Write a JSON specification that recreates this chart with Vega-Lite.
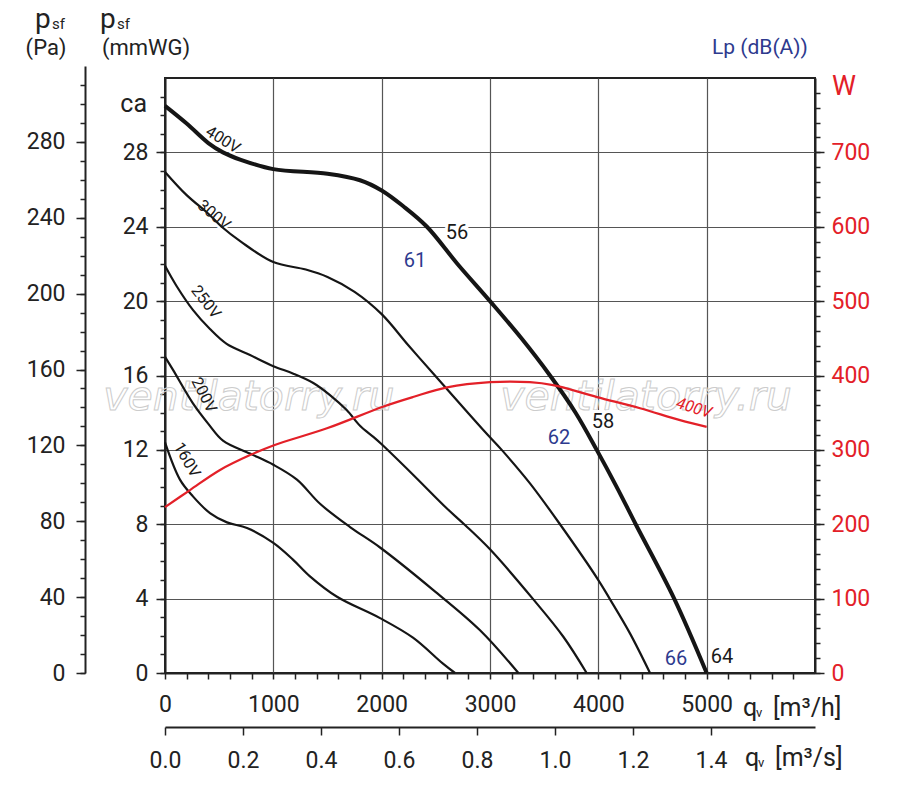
{
  "$schema": "https://vega.github.io/schema/vega-lite/v6.json",
  "width": 650,
  "height": 595,
  "autosize": "none",
  "padding": {"left": 165, "top": 78, "right": 85, "bottom": 113},
  "background": "white",
  "config": {
    "view": {"stroke": "#222", "strokeWidth": 2},
    "font": "Roboto",
    "axis": {
      "domainColor": "#222", "domainWidth": 2, "tickColor": "#222", "tickWidth": 1.5,
      "labelFont": "Roboto", "labelFontSize": 23, "labelColor": "#222",
      "gridColor": "#555", "gridWidth": 1.2, "grid": false,
      "labelOverlap": false, "labelFlush": false
    }
  },
  "datasets": {
    "curves": [
      {"v": "160V", "q": 0, "p": 12.4}, {"v": "160V", "q": 138, "p": 10.4}, {"v": "160V", "q": 258, "p": 9.5},
      {"v": "160V", "q": 415, "p": 8.6}, {"v": "160V", "q": 572, "p": 8.1}, {"v": "160V", "q": 757, "p": 7.8},
      {"v": "160V", "q": 1000, "p": 7.0}, {"v": "160V", "q": 1181, "p": 6.1}, {"v": "160V", "q": 1338, "p": 5.2},
      {"v": "160V", "q": 1588, "p": 4.1}, {"v": "160V", "q": 1985, "p": 2.95}, {"v": "160V", "q": 2289, "p": 1.9},
      {"v": "160V", "q": 2566, "p": 0.5}, {"v": "160V", "q": 2677, "p": 0},
      {"v": "200V", "q": 0, "p": 17.0}, {"v": "200V", "q": 74, "p": 16.3}, {"v": "200V", "q": 258, "p": 14.5},
      {"v": "200V", "q": 400, "p": 13.4}, {"v": "200V", "q": 535, "p": 12.5}, {"v": "200V", "q": 785, "p": 11.8},
      {"v": "200V", "q": 1000, "p": 11.2}, {"v": "200V", "q": 1218, "p": 10.4}, {"v": "200V", "q": 1431, "p": 9.1},
      {"v": "200V", "q": 1708, "p": 7.85}, {"v": "200V", "q": 1985, "p": 6.75}, {"v": "200V", "q": 2477, "p": 4.46},
      {"v": "200V", "q": 2908, "p": 2.3}, {"v": "200V", "q": 3262, "p": 0},
      {"v": "250V", "q": 0, "p": 21.9}, {"v": "250V", "q": 108, "p": 20.8}, {"v": "250V", "q": 261, "p": 19.5},
      {"v": "250V", "q": 415, "p": 18.5}, {"v": "250V", "q": 569, "p": 17.7}, {"v": "250V", "q": 785, "p": 17.1},
      {"v": "250V", "q": 1000, "p": 16.5}, {"v": "250V", "q": 1185, "p": 16.1}, {"v": "250V", "q": 1369, "p": 15.6},
      {"v": "250V", "q": 1523, "p": 14.95}, {"v": "250V", "q": 1677, "p": 14.14}, {"v": "250V", "q": 1800, "p": 13.3},
      {"v": "250V", "q": 1923, "p": 12.7}, {"v": "250V", "q": 2000, "p": 12.3}, {"v": "250V", "q": 2292, "p": 10.65},
      {"v": "250V", "q": 2600, "p": 8.86}, {"v": "250V", "q": 2769, "p": 7.96}, {"v": "250V", "q": 3000, "p": 6.65},
      {"v": "250V", "q": 3400, "p": 3.96}, {"v": "250V", "q": 3677, "p": 1.95}, {"v": "250V", "q": 3892, "p": 0},
      {"v": "300V", "q": 0, "p": 26.95}, {"v": "300V", "q": 200, "p": 25.7}, {"v": "300V", "q": 400, "p": 24.7},
      {"v": "300V", "q": 523, "p": 24.0}, {"v": "300V", "q": 700, "p": 23.2}, {"v": "300V", "q": 1000, "p": 22.1},
      {"v": "300V", "q": 1300, "p": 21.7}, {"v": "300V", "q": 1500, "p": 21.3}, {"v": "300V", "q": 1750, "p": 20.5},
      {"v": "300V", "q": 2000, "p": 19.3}, {"v": "300V", "q": 2250, "p": 17.6}, {"v": "300V", "q": 2492, "p": 16.0},
      {"v": "300V", "q": 2938, "p": 13.07}, {"v": "300V", "q": 3108, "p": 12.0}, {"v": "300V", "q": 3369, "p": 10.2},
      {"v": "300V", "q": 3646, "p": 8.0}, {"v": "300V", "q": 4000, "p": 5.0}, {"v": "300V", "q": 4108, "p": 3.96},
      {"v": "300V", "q": 4292, "p": 2.13}, {"v": "300V", "q": 4477, "p": 0},
      {"v": "400V", "q": 0, "p": 30.5}, {"v": "400V", "q": 200, "p": 29.55}, {"v": "400V", "q": 400, "p": 28.5},
      {"v": "400V", "q": 535, "p": 28.0}, {"v": "400V", "q": 700, "p": 27.6}, {"v": "400V", "q": 1000, "p": 27.1},
      {"v": "400V", "q": 1500, "p": 26.85}, {"v": "400V", "q": 1800, "p": 26.5}, {"v": "400V", "q": 2000, "p": 25.95},
      {"v": "400V", "q": 2200, "p": 25.1}, {"v": "400V", "q": 2418, "p": 24.0}, {"v": "400V", "q": 2700, "p": 22.0},
      {"v": "400V", "q": 3000, "p": 20.0}, {"v": "400V", "q": 3290, "p": 18.0}, {"v": "400V", "q": 3554, "p": 16.0},
      {"v": "400V", "q": 3790, "p": 14.0}, {"v": "400V", "q": 3985, "p": 12.0}, {"v": "400V", "q": 4170, "p": 10.0},
      {"v": "400V", "q": 4345, "p": 8.0}, {"v": "400V", "q": 4700, "p": 4.0}, {"v": "400V", "q": 5000, "p": 0}
    ],
    "power": [
      {"q": 0, "w": 223}, {"q": 231, "w": 246}, {"q": 508, "w": 273}, {"q": 785, "w": 293},
      {"q": 1000, "w": 306}, {"q": 1495, "w": 329}, {"q": 2012, "w": 358}, {"q": 2289, "w": 371},
      {"q": 2603, "w": 384}, {"q": 3000, "w": 391}, {"q": 3369, "w": 391}, {"q": 3582, "w": 387},
      {"q": 3988, "w": 371}, {"q": 4385, "w": 356}, {"q": 4754, "w": 340}, {"q": 5000, "w": 331}
    ],
    "dummy": [{"z": 0}]
  },
  "resolve": {"scale": {"x": "independent", "y": "independent"}},
  "layer": [
    {
      "encoding": {
        "x": {
          "field": "q", "type": "quantitative",
          "scale": {"domain": [0, 6000], "nice": false, "zero": false},
          "axis": {
            "orient": "bottom", "title": null, "format": "d", "grid": true,
            "values": [0,200,400,600,800,1000,1200,1400,1600,1800,2000,2200,2400,2600,2800,3000,3200,3400,3600,3800,4000,4200,4400,4600,4800,5000,5200,5400,5600,5800],
            "labelExpr": "datum.value % 1000 === 0 && datum.value <= 5000 ? datum.label : ''",
            "gridOpacity": {"condition": {"test": "datum.value % 1000 === 0", "value": 1}, "value": 0},
            "tickSize": 6, "labelPadding": 14
          }
        },
        "y": {
          "field": "p", "type": "quantitative",
          "scale": {"domain": [0, 32], "nice": false, "zero": false},
          "axis": {
            "orient": "left", "title": null, "grid": true,
            "values": [0, 4, 8, 12, 16, 20, 24, 28],
            "tickSize": 9, "labelPadding": 8
          }
        }
      },
      "layer": [
        {
          "data": {"values": [{"q": 775, "p": 14.14, "t": "ventilatorry.ru"}, {"q": 4440, "p": 14.14, "t": "ventilatorry.ru"}]},
          "mark": {"type": "text", "font": "DejaVu Sans", "fontSize": 41, "fontStyle": "italic", "baseline": "alphabetic", "fillOpacity": 0, "stroke": "#cccccc", "strokeWidth": 1},
          "encoding": {"text": {"field": "t"}}
        },
        {
          "data": {"values": [{"q": 535, "p": 28.67, "t": "400V"}]},
          "mark": {"type": "text", "fontSize": 16, "angle": 32, "stroke": "white", "strokeWidth": 5, "fill": "white"},
          "encoding": {"text": {"field": "t"}}
        },
        {
          "data": {"values": [{"q": 452, "p": 24.63, "t": "300V"}]},
          "mark": {"type": "text", "fontSize": 16, "angle": 40, "stroke": "white", "strokeWidth": 5, "fill": "white"},
          "encoding": {"text": {"field": "t"}}
        },
        {
          "data": {"values": [{"q": 2695, "p": 23.66, "t": "56"}, {"q": 4043, "p": 13.5, "t": "58"}, {"q": 5142, "p": 0.86, "t": "64"}, {"q": 2308, "p": 22.16, "t": "61"}, {"q": 3637, "p": 12.64, "t": "62"}, {"q": 4717, "p": 0.75, "t": "66"}]},
          "mark": {"type": "text", "fontSize": 20, "stroke": "white", "strokeWidth": 6, "fill": "white"},
          "encoding": {"text": {"field": "t"}}
        },
        {
          "data": {"name": "curves"},
          "transform": [{"filter": "datum.v !== '400V'"}],
          "mark": {"type": "line", "interpolate": "catmull-rom", "color": "#151515", "strokeWidth": 2.2},
          "encoding": {"detail": {"field": "v"}}
        },
        {
          "data": {"name": "curves"},
          "transform": [{"filter": "datum.v === '400V'"}],
          "mark": {"type": "line", "interpolate": "catmull-rom", "color": "#151515", "strokeWidth": 4}
        },
        {
          "data": {"values": [{"q": 535, "p": 28.67, "t": "400V"}]},
          "mark": {"type": "text", "fontSize": 16, "angle": 32, "color": "#1a1a1a"},
          "encoding": {"text": {"field": "t"}}
        },
        {
          "data": {"values": [{"q": 452, "p": 24.63, "t": "300V"}]},
          "mark": {"type": "text", "fontSize": 16, "angle": 40, "color": "#1a1a1a"},
          "encoding": {"text": {"field": "t"}}
        },
        {
          "data": {"values": [{"q": 378, "p": 19.95, "t": "250V"}]},
          "mark": {"type": "text", "fontSize": 16, "angle": 52, "color": "#1a1a1a"},
          "encoding": {"text": {"field": "t"}}
        },
        {
          "data": {"values": [{"q": 360, "p": 14.95, "t": "200V"}]},
          "mark": {"type": "text", "fontSize": 16, "angle": 63, "color": "#1a1a1a"},
          "encoding": {"text": {"field": "t"}}
        },
        {
          "data": {"values": [{"q": 203, "p": 11.46, "t": "160V"}]},
          "mark": {"type": "text", "fontSize": 16, "angle": 60, "color": "#1a1a1a"},
          "encoding": {"text": {"field": "t"}}
        },
        {
          "data": {"values": [{"q": 4883, "p": 14.25, "t": "400V"}]},
          "mark": {"type": "text", "fontSize": 16, "angle": 17, "fontStyle": "italic", "color": "#e32028"},
          "encoding": {"text": {"field": "t"}}
        },
        {
          "data": {"values": [{"q": 2695, "p": 23.66, "t": "56"}, {"q": 4043, "p": 13.5, "t": "58"}, {"q": 5142, "p": 0.86, "t": "64"}]},
          "mark": {"type": "text", "fontSize": 20, "color": "#1a1a1a"},
          "encoding": {"text": {"field": "t"}}
        },
        {
          "data": {"values": [{"q": 2308, "p": 22.16, "t": "61"}, {"q": 3637, "p": 12.64, "t": "62"}, {"q": 4717, "p": 0.75, "t": "66"}]},
          "mark": {"type": "text", "fontSize": 20, "color": "#2e3a8e"},
          "encoding": {"text": {"field": "t"}}
        },
        {
          "data": {"values": [{"q": -166, "p": 30.17, "t": "ca"}]},
          "mark": {"type": "text", "fontSize": 25, "align": "right", "baseline": "alphabetic", "color": "#222"},
          "encoding": {"text": {"field": "t"}}
        },
        {
          "data": {"values": [{"q": -1200, "p": 34.69, "t": "p"}, {"q": -600, "p": 34.69, "t": "p"}]},
          "mark": {"type": "text", "fontSize": 28, "align": "left", "baseline": "alphabetic", "color": "#222"},
          "encoding": {"text": {"field": "t"}}
        },
        {
          "data": {"values": [{"q": -1043, "p": 34.62, "t": "sf"}, {"q": -443, "p": 34.62, "t": "sf"}]},
          "mark": {"type": "text", "fontSize": 15, "align": "left", "baseline": "alphabetic", "color": "#222"},
          "encoding": {"text": {"field": "t"}}
        },
        {
          "data": {"values": [{"q": -1098, "p": 33.61, "t": "(Pa)"}, {"q": -175, "p": 33.61, "t": "(mmWG)"}]},
          "mark": {"type": "text", "fontSize": 22, "align": "center", "baseline": "middle", "color": "#222"},
          "encoding": {"text": {"field": "t"}}
        },
        {
          "data": {"values": [{"q": 5492, "p": 33.61, "t": "Lp (dB(A))"}]},
          "mark": {"type": "text", "fontSize": 21, "align": "center", "baseline": "middle", "color": "#2e3a8e"},
          "encoding": {"text": {"field": "t"}}
        },
        {
          "data": {"values": [{"q": 6268, "p": 31.52, "t": "W"}]},
          "mark": {"type": "text", "fontSize": 27, "align": "center", "baseline": "middle", "color": "#e32028"},
          "encoding": {"text": {"field": "t"}}
        },
        {
          "data": {"values": [{"q": 5335, "p": -2.31, "t": "q"}, {"q": 5354, "p": -5.0, "t": "q"}]},
          "mark": {"type": "text", "fontSize": 25, "align": "left", "baseline": "alphabetic", "color": "#222"},
          "encoding": {"text": {"field": "t"}}
        },
        {
          "data": {"values": [{"q": 5455, "p": -2.37, "t": "v"}, {"q": 5474, "p": -5.06, "t": "v"}]},
          "mark": {"type": "text", "fontSize": 13, "align": "left", "baseline": "alphabetic", "color": "#222"},
          "encoding": {"text": {"field": "t"}}
        },
        {
          "data": {"values": [{"q": 5612, "p": -2.31, "t": "[m³/h]"}, {"q": 5631, "p": -5.0, "t": "[m³/s]"}]},
          "mark": {"type": "text", "fontSize": 25, "align": "left", "baseline": "alphabetic", "color": "#222"},
          "encoding": {"text": {"field": "t"}}
        }
      ]
    },
    {
      "data": {"name": "power"},
      "mark": {"type": "line", "interpolate": "catmull-rom", "color": "#e32028", "strokeWidth": 2.2},
      "encoding": {
        "x": {"field": "q", "type": "quantitative", "scale": {"domain": [0, 6000], "nice": false, "zero": false}, "axis": null},
        "y": {
          "field": "w", "type": "quantitative",
          "scale": {"domain": [0, 800], "nice": false, "zero": false},
          "axis": {"orient": "right", "title": null, "values": [0, 100, 200, 300, 400, 500, 600, 700], "tickSize": 9, "labelPadding": 7, "labelColor": "#e32028"}
        }
      }
    },
    {
      "data": {"name": "dummy"},
      "mark": {"type": "point", "opacity": 0},
      "encoding": {
        "x": {
          "field": "z", "type": "quantitative",
          "scale": {"domain": [0, 1.666667], "nice": false, "zero": false},
          "axis": {"orient": "bottom", "offset": 54, "title": null, "values": [0, 0.2, 0.4, 0.6, 0.8, 1.0, 1.2, 1.4], "format": ".1f", "tickSize": 8, "labelPadding": 14}
        },
        "y": {
          "field": "z", "type": "quantitative",
          "scale": {"domain": [0, 320], "range": [595, -12], "nice": false, "zero": false},
          "axis": {"orient": "left", "offset": 80, "title": null, "values": [0, 40, 80, 120, 160, 200, 240, 280], "tickSize": 9, "labelPadding": 11}
        }
      }
    },
    {
      "data": {"name": "dummy"},
      "mark": {"type": "point", "opacity": 0},
      "encoding": {
        "y": {
          "field": "z", "type": "quantitative",
          "scale": {"domain": [0, 32], "nice": false, "zero": false},
          "axis": {"orient": "left", "title": null, "labels": false, "domain": false, "tickSize": 5,
            "values": [0,1,2,3,4,5,6,7,8,9,10,11,12,13,14,15,16,17,18,19,20,21,22,23,24,25,26,27,28,29,30,31]}
        }
      }
    },
    {
      "data": {"name": "dummy"},
      "mark": {"type": "point", "opacity": 0},
      "encoding": {
        "y": {
          "field": "z", "type": "quantitative",
          "scale": {"domain": [0, 800], "nice": false, "zero": false},
          "axis": {"orient": "right", "title": null, "labels": false, "domain": false, "tickSize": 5,
            "values": [0,20,40,60,80,100,120,140,160,180,200,220,240,260,280,300,320,340,360,380,400,420,440,460,480,500,520,540,560,580,600,620,640,660,680,700,720,740,760,780]}
        }
      }
    },
    {
      "data": {"name": "dummy"},
      "mark": {"type": "point", "opacity": 0},
      "encoding": {
        "y": {
          "field": "z", "type": "quantitative",
          "scale": {"domain": [0, 320], "range": [595, -12], "nice": false, "zero": false},
          "axis": {"orient": "left", "offset": 80, "title": null, "labels": false, "domain": false, "tickSize": 5,
            "values": [0,10,20,30,40,50,60,70,80,90,100,110,120,130,140,150,160,170,180,190,200,210,220,230,240,250,260,270,280,290,300,310]}
        }
      }
    }
  ]
}
